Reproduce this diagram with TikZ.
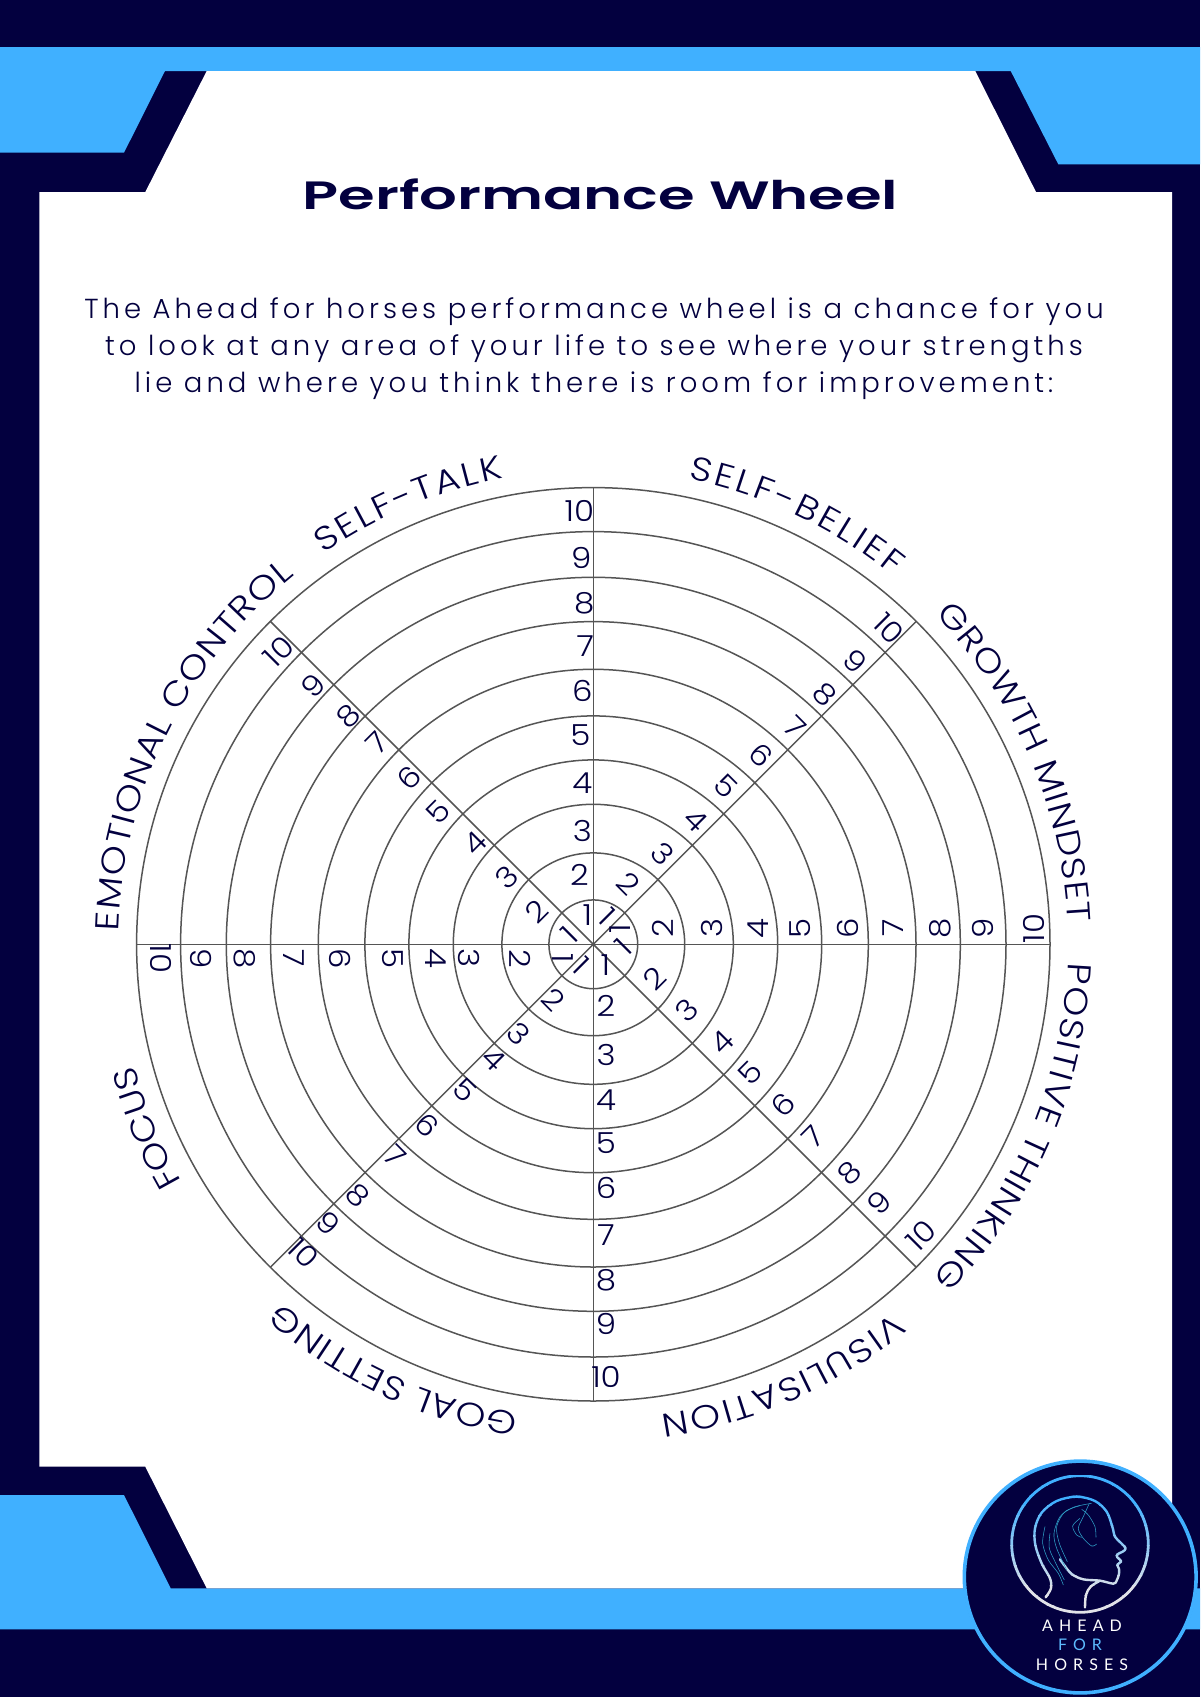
\documentclass[tikz,border=0pt]{standalone}
\usepackage{fontspec}
\usetikzlibrary{decorations.text}
\setmainfont{Poppins}
\newfontfamily\numf[FakeStretch=1.12]{Poppins Light}
\newfontfamily\arcf[FakeStretch=1.16]{Poppins Light}
\newfontfamily\ps{Poppins SemiBold}
\newfontfamily\bodyf[LetterSpace=14.6]{Poppins Light}
\newfontfamily\logof[LetterSpace=38]{Lato}
\definecolor{navy}{HTML}{03003F}
\definecolor{sky}{HTML}{40B0FF}
\definecolor{ringgray}{HTML}{555555}
\definecolor{silver}{HTML}{E2E3E8}
\definecolor{teal2}{HTML}{2FA0C8}
\tikzset{
  num/.style={inner sep=0pt,outer sep=0pt,text=navy,font=\numf\fontsize{29}{29}\selectfont},
  ringline/.style={draw=ringgray,line width=1.5pt},
  bodyline/.style={anchor=base,inner sep=0pt,text=navy,font=\bodyf\fontsize{27.5}{30}\selectfont},
  logotext/.style={anchor=base,inner sep=0pt,font=\logof\fontsize{16}{18}\selectfont},
}
\newcommand\numspoke[4]{\foreach \n/\r/\p in {#4} {\node[num,rotate=#3] (#1\n) at ([shift={(#2+90:\p pt)}]#2:\r pt) {\n};}}
\newcommand\arclabel[3]{\path[decorate,decoration={text along path,text align={fit to path},text={|\arcf\fontsize{33}{33}\selectfont\color{navy}|#3}}] (#1:475pt) arc[start angle=#1,end angle=#2,radius=475pt];}
\begin{document}
\begin{tikzpicture}[x=1pt,y=-1pt]
\useasboundingbox (0,0) rectangle (1200,1697);
\fill[navy] (0,0) rectangle (1200,1697);
\fill[sky] (0,47) -- (1200,47) -- (1200,164.3) -- (1058.3,164.3) -- (1010.7,71) -- (165,71) -- (124,152.7) -- (0,152.7) -- cycle;
\fill[sky] (0,1495) -- (124,1495) -- (170.7,1588.3) -- (1200,1588.3) -- (1200,1629.3) -- (0,1629.3) -- cycle;
\fill[white] (206.7,71) -- (975.3,71) -- (1036,192) -- (1172,192) -- (1172,1588.3) -- (206.7,1588.3) -- (145.3,1466.7) -- (39.3,1466.7) -- (39.3,192) -- (145.3,192) -- cycle;

\node[anchor=base,inner sep=0pt,text=navy,font=\ps\fontsize{39.5}{40}\selectfont] (title) at (600.5,209.3) {\scalebox{1.5}[1]{Performance Wheel}};
\node[bodyline] (l1) at (594,318) {The Ahead for horses performance wheel is a chance for you};
\node[bodyline] (l2) at (594,355) {to look at any area of your life to see where your strengths};
\node[bodyline] (l3) at (594,392) {lie and where you think there is room for improvement:};

\begin{scope}[shift={(593.3,944.3)}]
\coordinate (c) at (0,0);
\foreach \rr in {44.4,91.4,140,184.4,228.4,275,322.7,367,412.7,456.7} \draw[ringline] (c) circle[radius=\rr pt];
\foreach \a/\m in {90/N,45/NE,0/E,-45/SE,-90/S,-135/SW,180/W,135/NW} {
  \coordinate (rim\m) at (\a:456.7pt);
  \draw[ringline] (c) -- (rim\m);
}
\numspoke{N}{90}{0}{1/29/6,2/69/14,3/113/11,4/161/11,5/209/13,6/253/11,7/298/8,8/341/9,9/386/12,10/433/14}
\numspoke{NE}{45}{-45}{1/29/10,2/68/18,3/113/15,4/160/15,5/206/18,6/252/15,7/296/11,8/340/13,9/385/15,10/432/14}
\numspoke{E}{0}{90}{1/27/16,2/70/16,3/119/16,4/165/16,5/207/16,6/255/16,7/300/16,8/347/16,9/390/16,10/441/16}
\numspoke{SE}{-45}{45}{1/23/19.5,2/67.7/19.6,3/113.4/19.5,4/160/22,5/202/19.6,6/248/20.7,7/291.6/19.5,8/342.5/19.5,9/385.3/19,10/437.7/26}
\numspoke{S}{-90}{0}{1/21/12,2/62/12.7,3/111/12.7,4/156/12.7,5/199/12.7,6/244/12.7,7/291/12.7,8/336/12.7,9/380/12.7,10/433/12.7}
\numspoke{SW}{-135}{-45}{1/23/6.4,2/67.7/11,3/116/10,4/151.6/11.6,5/194/12.3,6/246/10.5,7/290/10,8/343.9/10.6,9/384.6/10,10/423.5/13.4}
\numspoke{W}{180}{-90}{1/30/14,2/73/14,3/124/14,4/157/14,5/200/14,6/253/14,7/299/14,8/349/14,9/392/14,10/432/14}
\numspoke{NW}{135}{45}{1/23/10,2/63/17,3/108/13.7,4/155/12.2,5/203/15.8,6/247.5/12.7,7/295/10,8/335/11.6,9/381/15.8,10/429.6/15.8}
\arclabel{124.6}{100.9}{SELF-TALK}
\arclabel{78.4}{50.9}{SELF-BELIEF}
\arclabel{44}{2.7}{GROWTH MINDSET}
\arclabel{-2.2}{-44.5}{POSITIVE THINKING}
\arclabel{-50.8}{-81.8}{VISULISATION}
\arclabel{-99}{-131}{GOAL SETTING}
\arclabel{-150}{-164.7}{FOCUS}
\arclabel{178.4}{129}{EMOTIONAL CONTROL}
\end{scope}

\coordinate (logo) at (1080.2,1577);
\fill[navy] (logo) circle[radius=117pt];
\draw[sky,line width=3.6pt] (logo) circle[radius=115.9pt];

\begin{scope}[shift={(900,1420)},x=.3333pt,y=-.3333pt]
\def\headpath{
  plot[smooth,tension=.55] coordinates {(437,532) (453,505) (450,475) (425,430) (406,375) (405,325) (425,278) (470,243) (530,230) (585,243) (620,275) (637,320) (645,350) (662,368) (677,385) (668,395) (652,403) (652,412) (664,424) (652,434) (657,446) (657,462) (650,482) (640,491) (600,482) (550,478) (515,462) (490,432) (480,418)}
  plot[smooth,tension=.6] coordinates {(597,484) (572,500) (558,525) (555,562)}
}
\foreach \i in {0,...,13} {
  \pgfmathsetmacro{\mixv}{min(100,max(0,(\i-2)*11))}
  \begin{scope}
    \clip (320,{165+\i*30}) rectangle (760,{165+\i*30+31});
    \draw[silver!\mixv!sky,line width=2.8pt,line join=round] (540,372) circle[radius=68.3pt];
    \draw[silver!\mixv!sky,line width=2.4pt,line join=round,line cap=round] \headpath;
  \end{scope}
}
\draw[teal2,line width=.55pt] plot[smooth] coordinates {(540,257) (495,275) (470,320) (478,370) (502,425)};
\draw[teal2,line width=.55pt] plot[smooth] coordinates {(575,250) (520,262) (480,290) (462,340) (470,385) (500,450)};
\draw[teal2,line width=.55pt] plot[smooth] coordinates {(435,320) (428,370) (445,420) (475,460) (490,495)};
\draw[teal2,line width=.55pt] plot[smooth] coordinates {(450,340) (448,385) (470,435) (493,480)};
\draw[teal2,line width=.55pt] plot[smooth] coordinates {(568,250) (550,290) (535,325) (550,355) (575,378) (590,372)};
\draw[teal2,line width=.55pt] plot[smooth] coordinates {(545,268) (565,285) (585,320) (588,352)};
\draw[teal2,line width=.55pt] plot[smooth] coordinates {(540,295) (518,318) (530,345) (545,352)};
\end{scope}

\node[logotext,text=white] (lg1) at (1082,1631.5) {AHEAD};
\node[logotext,text=sky!85!white] (lg2) at (1080,1650.5) {FOR};
\node[logotext,text=white] (lg3) at (1082,1670) {HORSES};
\end{tikzpicture}
\end{document}
